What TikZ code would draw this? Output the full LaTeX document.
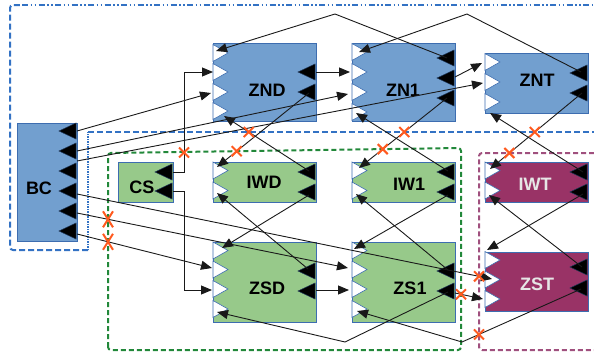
\documentclass[tikz,border=0pt]{standalone}
\usepackage{fontspec}
\newfontfamily\labfont{Liberation Sans}
\usetikzlibrary{arrows.meta}
\definecolor{bluef}{HTML}{729FCF}
\definecolor{boxedge}{HTML}{3D6DB0}
\definecolor{greenf}{HTML}{97C98A}
\definecolor{purplef}{HTML}{993366}
\definecolor{frameblue}{HTML}{3372C4}
\definecolor{framegreen}{HTML}{22883A}
\definecolor{framepurple}{HTML}{A0507E}
\definecolor{xcol}{HTML}{FF5A1F}
\definecolor{lightlab}{HTML}{E6E6E6}
\tikzset{
 box/.style={draw=boxedge, line width=0.8pt, inner sep=0pt, outer sep=0pt},
 bluebox/.style={box, fill=bluef},
 greenbox/.style={box, fill=greenf},
 purplebox/.style={box, fill=purplef},
 inport/.style={fill=white, draw=boxedge, line width=0.6pt},
 outport/.style={fill=black, draw=boxedge!50!black, line width=0.5pt},
 lbl/.style={font=\labfont\bfseries\fontsize{18}{18}\selectfont, inner sep=0pt},
 conn/.style={draw=black!90, line width=0.9pt, -{Triangle[length=11pt,width=9pt]}},
 xmark/.style={draw=xcol, line width=2pt},
 fblue/.style={draw=frameblue, line width=2pt, dash pattern=on 6pt off 3pt},
 fgreen/.style={draw=framegreen, line width=2pt, dash pattern=on 5pt off 3pt},
 fpurple/.style={draw=framepurple, line width=2pt, dash pattern=on 5pt off 3pt},
}
\newcommand\myinport[2]{\filldraw[inport] (#1,#2-8.5) -- (#1+15,#2) -- (#1,#2+8.5) -- cycle;}
\newcommand\myoutport[2]{\filldraw[outport] (#1,#2-8) -- (#1-17,#2) -- (#1,#2+8) -- cycle;}
\newcommand\myx[1]{\draw[xmark] (#1) +(-5,-5) -- +(5,5) +(-5,5) -- +(5,-5);}
\begin{document}
\begin{tikzpicture}[x=1pt,y=-1pt]
\useasboundingbox (0,0) rectangle (594,356);
% ---------- frames
\draw[fblue, rounded corners=3pt] (88,250) -- (10,250) -- (10,5) -- (22,5);
\draw[draw=frameblue, line width=2pt, dash pattern=on 6pt off 2.5pt on 1.5pt off 2.5pt on 1.5pt off 2.5pt] (22,5) -- (594,5);
\draw[draw=frameblue, line width=1.6pt, dash pattern=on 1.2pt off 1.3pt] (88,250) -- (88,132);
\draw[fblue] (88,132) -- (594,132);
\coordinate (bL) at (88,132);
\coordinate (bR) at (594,132);
\coordinate (gTL) at (108,153);
\coordinate (gTR) at (461,148);
\coordinate (gBR) at (461,350);
\coordinate (gBL) at (108,350);
\coordinate (pTL) at (479,153);
\coordinate (pTR) at (594,153);
\coordinate (pBL) at (479,350);
\coordinate (pBR) at (594,350);
\draw[fgreen, rounded corners=3pt] (gBL) -- (gTL) -- (gTR) -- (gBR) -- cycle;
\draw[fpurple, rounded corners=3pt] (pTR) -- (pTL) -- (pBL) -- (pBR);
% ---------- boxes
\node[bluebox, minimum width=60pt, minimum height=118pt] (BC) at (47,182) {};
\node[bluebox, minimum width=103pt, minimum height=78pt] (ZND) at (264.5,82) {};
\node[bluebox, minimum width=103pt, minimum height=78pt] (ZN1) at (403.5,82) {};
\node[bluebox, minimum width=103pt, minimum height=60pt] (ZNT) at (536.5,83) {};
\node[greenbox, minimum width=55pt, minimum height=40pt] (CS) at (145.5,182) {};
\node[greenbox, minimum width=103pt, minimum height=40pt] (IWD) at (264.5,182) {};
\node[greenbox, minimum width=103pt, minimum height=40pt] (IW1) at (403.5,182) {};
\node[purplebox, minimum width=103pt, minimum height=40pt] (IWT) at (536.5,182) {};
\node[greenbox, minimum width=103pt, minimum height=80pt] (ZSD) at (264.5,282) {};
\node[greenbox, minimum width=103pt, minimum height=80pt] (ZS1) at (403.5,282) {};
\node[purplebox, minimum width=103pt, minimum height=59pt] (ZST) at (536.5,281.5) {};
% ---------- ports
\foreach \y in {131,151,171,191,211,231} {\myoutport{76}{\y}}
\foreach \y in {172,191} {\myoutport{172}{\y}}
\foreach \y in {53,72,92,111} {\myinport{213}{\y}}
\foreach \y in {72,92} {\myoutport{315}{\y}}
\foreach \y in {52,72,92,112} {\myinport{352}{\y}}
\foreach \y in {58,78,98} {\myoutport{454}{\y}}
\foreach \y in {62,82,102} {\myinport{485}{\y}}
\foreach \y in {73,93} {\myoutport{587}{\y}}
\foreach \x in {213,352} {\myinport{\x}{170.5}\myinport{\x}{190.5}}
\foreach \x in {315,454} {\myoutport{\x}{172}\myoutport{\x}{192}}
\myinport{485}{170.5}\myinport{485}{190.5}
\myoutport{587}{172}\myoutport{587}{192}
\foreach \x in {213,352} {\myinport{\x}{250.5}\myinport{\x}{269.5}\myinport{\x}{289}\myinport{\x}{309}}
\foreach \x in {315,454} {\myoutport{\x}{271}\myoutport{\x}{291}}
\foreach \y in {260,279.5,299} {\myinport{485}{\y}}
\foreach \y in {267,288} {\myoutport{587}{\y}}
% ---------- labels
\node[lbl] (BC-t) at (39,188) {BC};
\node[lbl] (CS-t) at (142,187) {CS};
\node[lbl] (ZND-t) at (267,90) {ZND};
\node[lbl] (ZN1-t) at (403,90) {ZN1};
\node[lbl] (ZNT-t) at (537,80) {ZNT};
\node[lbl] (IWD-t) at (264,182) {IWD};
\node[lbl] (IW1-t) at (409,184) {IW1};
\node[lbl, text=lightlab] (IWT-t) at (535,184) {IWT};
\node[lbl] (ZSD-t) at (267,288) {ZSD};
\node[lbl] (ZS1-t) at (410,288) {ZS1};
\node[lbl, text=lightlab] (ZST-t) at (537,284) {ZST};
% ---------- port coordinates (sources)
\coordinate (BC-o1) at (77,131);
\coordinate (BC-o2) at (77,151);
\coordinate (BC-o3) at (77,161);
\coordinate (BC-o4) at (77,194);
\coordinate (BC-o5) at (77,213);
\coordinate (BC-o6) at (77,234);
\coordinate (CS-o1) at (173,172);
\coordinate (CS-o2) at (173,191);
\coordinate (ZND-o1) at (316,72);
\coordinate (ZND-o2) at (309,93);
\coordinate (ZN1-o1) at (447,58);
\coordinate (ZN1-o2) at (455,77);
\coordinate (ZN1-o3) at (447,98);
\coordinate (ZNT-o1) at (581,72);
\coordinate (ZNT-o2) at (582,93);
\coordinate (IWD-o1) at (309,171);
\coordinate (IWD-o2) at (309,195);
\coordinate (IW1-o1) at (448,171);
\coordinate (IW1-o2) at (448,195);
\coordinate (IWT-o1) at (583,172);
\coordinate (IWT-o2) at (583,194);
\coordinate (ZSD-o1) at (308,269);
\coordinate (ZSD-o2) at (316,290);
\coordinate (ZS1-o1) at (448,270);
\coordinate (ZS1-o2) at (448,292);
\coordinate (ZS1-o2b) at (455,293);
\coordinate (ZST-o1) at (582,267);
\coordinate (ZST-o2) at (581,289);
% ---------- port coordinates (targets)
\coordinate (ZND-i1) at (216,51);
\coordinate (ZND-i2) at (213,72);
\coordinate (ZND-i3) at (211,93);
\coordinate (ZND-i4) at (224,116);
\coordinate (ZN1-i1) at (359,52);
\coordinate (ZN1-i2) at (350,72);
\coordinate (ZN1-i3) at (348,94);
\coordinate (ZN1-i4) at (356,113);
\coordinate (ZNT-i1) at (482,63);
\coordinate (ZNT-i2) at (483,83);
\coordinate (ZNT-i3) at (490,113);
\coordinate (IWD-i1) at (217,167);
\coordinate (IWD-i2) at (217,193);
\coordinate (IW1-i1) at (359,168);
\coordinate (IW1-i2) at (356,194);
\coordinate (IWT-i1) at (490,169);
\coordinate (IWT-i2) at (489,195);
\coordinate (ZSD-i1) at (222,248);
\coordinate (ZSD-i2) at (212,268);
\coordinate (ZSD-i3) at (212,290);
\coordinate (ZSD-i4) at (217,312);
\coordinate (ZS1-i1) at (354,249);
\coordinate (ZS1-i2) at (348,268);
\coordinate (ZS1-i3) at (349,290);
\coordinate (ZS1-i4) at (357,311);
\coordinate (ZST-i1) at (487,250);
\coordinate (ZST-i2) at (492,279);
\coordinate (ZST-i3) at (483,299);
% waypoints
\coordinate (p1) at (335,14);
\coordinate (p2) at (467,14);
\coordinate (v1) at (462,342);
\coordinate (v2) at (345,342);
% ---------- connectors
\draw[conn] (ZN1-o1) -- (p1) -- (ZND-i1);
\draw[conn] (ZNT-o1) -- (p2) -- (ZN1-i1);
\draw[conn] (ZND-o1) -- (ZN1-i2);
\draw[conn] (BC-o1) -- (ZND-i3);
\draw[conn] (BC-o2) -- (ZN1-i3);
\draw[conn] (BC-o3) -- (ZNT-i2);
\draw[conn] (CS-o1) -- ++(11,0) |- (ZND-i2);
\draw[conn] (CS-o2) -- ++(11,0) |- (ZSD-i3);
\draw[conn] (ZND-o2) -- (IWD-i1);
\draw[conn] (IWD-o1) -- (ZND-i4);
\draw[conn] (ZN1-o3) -- (IW1-i1);
\draw[conn] (IW1-o1) -- (ZN1-i4);
\draw[conn] (ZN1-o2) -- (ZNT-i1);
\draw[conn] (IWT-o1) -- (ZNT-i3);
\draw[conn] (ZNT-o2) -- (IWT-i1);
\draw[conn] (IWD-o2) -- (ZSD-i1);
\draw[conn] (ZSD-o1) -- (IWD-i2);
\draw[conn] (IW1-o2) -- (ZS1-i1);
\draw[conn] (ZS1-o1) -- (IW1-i2);
\draw[conn] (IWT-o2) -- (ZST-i1);
\draw[conn] (ZST-o1) -- (IWT-i2);
\draw[conn] (BC-o4) -- (ZST-i2);
\draw[conn] (BC-o5) -- (ZS1-i2);
\draw[conn] (BC-o6) -- (ZSD-i2);
\draw[conn] (ZSD-o2) -- (ZS1-i3);
\draw[conn] (ZS1-o2b) -- (ZST-i3);
\draw[conn] (ZST-o2) -- (v1) -- (ZS1-i4);
\draw[conn] (ZS1-o2) -- (v2) -- (ZSD-i4);
% ---------- crossing marks
\coordinate (x1) at (184,152.5);
\coordinate (x2) at (intersection of ZND-o2--IWD-i1 and gTL--gTR);
\coordinate (x3) at (intersection of IWD-o1--ZND-i4 and bL--bR);
\coordinate (x4) at (intersection of ZN1-o3--IW1-i1 and bL--bR);
\coordinate (x5) at (intersection of ZN1-o3--IW1-i1 and gTL--gTR);
\coordinate (x6) at (intersection of ZNT-o2--IWT-i1 and bL--bR);
\coordinate (x7) at (intersection of ZNT-o2--IWT-i1 and pTL--pTR);
\coordinate (x10) at (intersection of BC-o4--ZST-i2 and pTL--pBL);
\coordinate (x11) at (intersection of ZS1-o2b--ZST-i3 and gTR--gBR);
\coordinate (x12) at (intersection of ZST-o2--v1 and pTL--pBL);
\coordinate (x8) at (intersection of BC-o5--ZS1-i2 and gTL--gBL);
\coordinate (x9) at (intersection of BC-o6--ZSD-i2 and gTL--gBL);
\foreach \c in {x1,x2,x3,x4,x5,x6,x7,x10,x11,x12} {\myx{\c}}
\foreach \c in {x8,x9} {\draw[xmark] (\c) +(-5,-8) -- +(5,8) +(-5,8) -- +(5,-8);}
\end{tikzpicture}
\end{document}
